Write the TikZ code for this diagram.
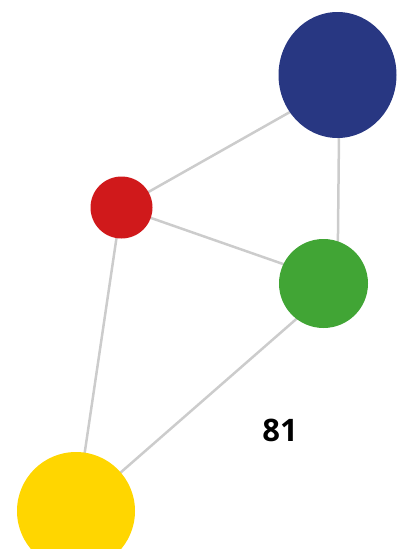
\documentclass[tikz,border=0pt]{standalone}
\usepackage{fontspec}
\setmainfont{Open Sans}
\usetikzlibrary{shapes.geometric}
\definecolor{cblue}{HTML}{283782}
\definecolor{cred}{HTML}{D0191B}
\definecolor{cgreen}{HTML}{41A535}
\definecolor{cyellow}{HTML}{FFD600}
\definecolor{cedge}{HTML}{CCCCCC}
\pgfdeclarelayer{bg}
\pgfsetlayers{bg,main}
\begin{document}
\begin{tikzpicture}[x=1pt,y=-1pt,
  ball/.style={ellipse, inner sep=0pt},
  link/.style={draw=cedge, line width=2.5pt}]
\useasboundingbox (0,0) rectangle (397,549);
\clip (0,0) rectangle (397,549);
\node[ball, fill=cblue, minimum width=118pt, minimum height=126pt] (b) at (337.5,75) {};
\node[ball, fill=cred, minimum width=62pt, minimum height=62pt] (r) at (121.5,207.5) {};
\node[ball, fill=cgreen, minimum width=89pt, minimum height=89pt] (g) at (323.5,283.5) {};
\node[ball, fill=cyellow, minimum width=118pt, minimum height=118pt] (y) at (76,511) {};
\coordinate (bp) at (339.5,84);
\coordinate (rp) at (121,207.5);
\coordinate (gp) at (337.5,283);
\coordinate (yp) at (76,511.5);
\begin{pgfonlayer}{bg}
\draw[link] (bp) -- (rp);
\draw[link] (bp) -- (gp);
\draw[link] (rp) -- (gp);
\draw[link] (rp) -- (yp);
\draw[link] (gp) -- (yp);
\end{pgfonlayer}
\node[font=\fontsize{31}{36}\selectfont\bfseries] (t) at (280,430) {81};
\end{tikzpicture}
\end{document}
